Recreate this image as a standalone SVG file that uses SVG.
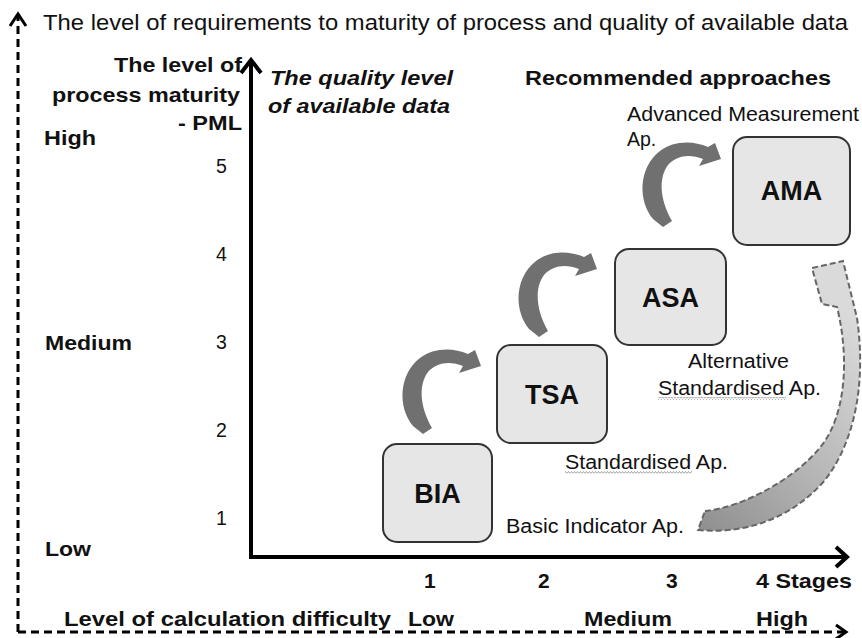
<svg xmlns="http://www.w3.org/2000/svg" width="862" height="638" viewBox="0 0 862 638">
<defs>
<style>
text{font-family:"Liberation Sans",Arial,sans-serif;fill:#111}
.b{font-weight:bold;font-size:21px}
.r{font-size:19.5px}
.bi{font-weight:bold;font-style:italic;font-size:21px}
.lbl{font-weight:bold;font-size:27px;text-anchor:middle}
.box{fill:#e6e6e6;stroke:#333;stroke-width:2}
.ax{stroke:#000;stroke-width:4;fill:none}
.dax{stroke:#000;stroke-width:3;fill:none;stroke-dasharray:8 5}
.head{stroke:#000;stroke-width:3;fill:none;stroke-linejoin:miter}
.carr{fill:#707070}
</style>
<pattern id="sq" width="3" height="3" patternUnits="userSpaceOnUse"><path d="M0,2.5 L1.5,0.5 L3,2.5" fill="none" stroke="#8a8a8a" stroke-width="0.8"/></pattern>
<linearGradient id="gbig" x1="0" y1="1" x2="0.6" y2="0"><stop offset="0" stop-color="#8e8e8e"/><stop offset="0.5" stop-color="#b8b8b8"/><stop offset="1" stop-color="#dadada"/></linearGradient>
<path id="carrow" d="M413,426 C398,408 398,375 420,358 C433,348 452,347 468,354 L475,350 L481,366 L459,373 L463,366 C450,361 437,362 428,372 C419,384 419,405 432,428 L423,434 Z"/>
</defs>

<g id="axes">
<line class="dax" x1="18" y1="632" x2="18" y2="16"/>
<polyline class="head" points="10,26 18,14 26,26"/>
<line class="dax" x1="18" y1="632" x2="844" y2="632"/>
<polyline class="head" points="836,625 846,632 836,639"/>
<line class="ax" x1="251" y1="559" x2="251" y2="62"/>
<polyline class="ax" points="241,73 251,60 261,73"/>
<line class="ax" x1="249" y1="557" x2="845" y2="557"/>
<polyline class="ax" points="836,547 847,557 836,567"/>
</g>

<g id="connectors">
<use href="#carrow" class="carr"/>
<use href="#carrow" class="carr" transform="translate(116,-97)"/>
<use href="#carrow" class="carr" transform="translate(240,-207)"/>
<path d="M705,511 C740,508 795,480 822,445 C845,415 850,360 837,307 L822,304 L812,268 L843,261 L857,318 C866,380 856,440 825,480 C795,515 750,535 698,530 Z" fill="url(#gbig)" stroke="#666" stroke-width="2" stroke-dasharray="6 3"/>
</g>

<g id="node-BIA"><rect class="box" x="383" y="444" width="109" height="98" rx="14"/><text class="lbl" x="437.5" y="503">BIA</text></g>
<g id="node-TSA"><rect class="box" x="497" y="345" width="110" height="98" rx="14"/><text class="lbl" x="552" y="404">TSA</text></g>
<g id="node-ASA"><rect class="box" x="615" y="249" width="111" height="96" rx="14"/><text class="lbl" x="670.5" y="307">ASA</text></g>
<g id="node-AMA"><rect class="box" x="733" y="137" width="117" height="108" rx="14"/><text class="lbl" x="791.5" y="200">AMA</text></g>

<g id="labels">
<text style="font-size:21.5px" x="43" y="30" textLength="805" lengthAdjust="spacingAndGlyphs">The level of requirements to maturity of process and quality of available data</text>
<text class="b" x="114" y="72" textLength="128" lengthAdjust="spacingAndGlyphs">The level of</text>
<text class="b" x="52" y="102" textLength="188" lengthAdjust="spacingAndGlyphs">process maturity</text>
<text class="b" x="178" y="130" textLength="64" lengthAdjust="spacingAndGlyphs">- PML</text>
<text class="b" x="44" y="145" textLength="52" lengthAdjust="spacingAndGlyphs">High</text>
<text class="b" x="45" y="350" textLength="87" lengthAdjust="spacingAndGlyphs">Medium</text>
<text class="b" x="45" y="556" textLength="46" lengthAdjust="spacingAndGlyphs">Low</text>
<text class="r" x="216" y="173">5</text>
<text class="r" x="216" y="261">4</text>
<text class="r" x="216" y="349">3</text>
<text class="r" x="216" y="437">2</text>
<text class="r" x="216" y="525">1</text>
<text class="bi" x="270" y="85" textLength="183" lengthAdjust="spacingAndGlyphs">The quality level</text>
<text class="bi" x="268" y="113" textLength="182" lengthAdjust="spacingAndGlyphs">of available data</text>
<text class="b" x="525" y="85" textLength="306" lengthAdjust="spacingAndGlyphs">Recommended approaches</text>
<text class="r" x="627" y="121" textLength="232" lengthAdjust="spacingAndGlyphs">Advanced Measurement</text>
<text class="r" x="627" y="146">Ap.</text>
<text class="r" x="688" y="368" textLength="101" lengthAdjust="spacingAndGlyphs">Alternative</text>
<text class="r" x="658" y="395" textLength="163" lengthAdjust="spacingAndGlyphs">Standardised Ap.</text>
<rect x="658" y="397" width="128" height="3" fill="url(#sq)"/>
<text class="r" x="565" y="469" textLength="163" lengthAdjust="spacingAndGlyphs">Standardised Ap.</text>
<rect x="565" y="471" width="127" height="3" fill="url(#sq)"/>
<text class="r" x="506" y="533" textLength="178" lengthAdjust="spacingAndGlyphs">Basic Indicator Ap.</text>
<text class="b" x="424" y="588">1</text>
<text class="b" x="538" y="588">2</text>
<text class="b" x="666" y="588">3</text>
<text class="b" x="756" y="588" textLength="96" lengthAdjust="spacingAndGlyphs">4 Stages</text>
<text class="b" x="64" y="626" textLength="327" lengthAdjust="spacingAndGlyphs">Level of calculation difficulty</text>
<text class="b" x="408" y="626" textLength="46" lengthAdjust="spacingAndGlyphs">Low</text>
<text class="b" x="584" y="626" textLength="88" lengthAdjust="spacingAndGlyphs">Medium</text>
<text class="b" x="756" y="626" textLength="52" lengthAdjust="spacingAndGlyphs">High</text>
</g>
</svg>
